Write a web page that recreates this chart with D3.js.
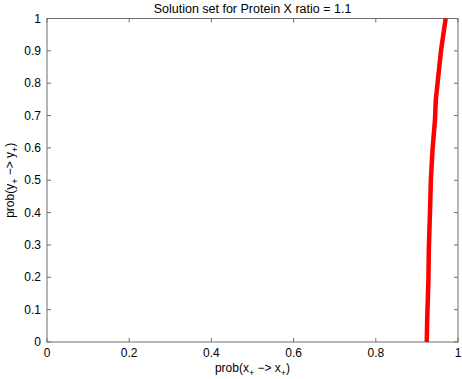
<!DOCTYPE html>
<html lang="en">
  <head>
    <meta charset="utf-8" />
    <title>Solution set for Protein X ratio</title>
    <script type="text/javascript" src="https://d3js.org/d3.v7.min.js"></script>
    <style>
      body { margin: 0; background: #fff; }
      text { font-family: "Liberation Sans", Arial, sans-serif; }
    </style>
  </head>
  <body>
    <script type="text/javascript">
      // curve
      var probX = [0.924, 0.925, 0.928, 0.929, 0.932, 0.934, 0.938, 0.944, 0.946, 0.959, 0.970];
      var probY = [0.0, 0.068, 0.192, 0.285, 0.409, 0.502, 0.594, 0.687, 0.749, 0.904, 1.0];
      var xTicks = [0, 0.2, 0.4, 0.6, 0.8, 1];
      var yTicks = [0, 0.1, 0.2, 0.3, 0.4, 0.5, 0.6, 0.7, 0.8, 0.9, 1];

      var width = 462, height = 379;
      var margin = { top: 18.5, right: 4, bottom: 37, left: 47 };

      var svg = d3.select("body").append("svg")
        .attr("width", width)
        .attr("height", height);

      var x = d3.scaleLinear().domain([0, 1]).range([margin.left, width - margin.right]);
      var y = d3.scaleLinear().domain([0, 1]).range([height - margin.bottom, margin.top]);

      var axisColor = "#6e6e6e";
      var tickLen = 4;

      // box
      svg.append("rect")
        .attr("x", x(0)).attr("y", y(1))
        .attr("width", x(1) - x(0)).attr("height", y(0) - y(1))
        .attr("fill", "none").attr("stroke", axisColor).attr("stroke-width", 1);

      // inward ticks on all four sides
      var g = svg.append("g").attr("stroke", axisColor).attr("stroke-width", 1);
      xTicks.forEach(function (t) {
        g.append("line").attr("x1", x(t)).attr("x2", x(t)).attr("y1", y(0)).attr("y2", y(0) - tickLen);
        g.append("line").attr("x1", x(t)).attr("x2", x(t)).attr("y1", y(1)).attr("y2", y(1) + tickLen);
      });
      yTicks.forEach(function (t) {
        g.append("line").attr("y1", y(t)).attr("y2", y(t)).attr("x1", x(0)).attr("x2", x(0) + tickLen);
        g.append("line").attr("y1", y(t)).attr("y2", y(t)).attr("x1", x(1)).attr("x2", x(1) - tickLen);
      });

      svg.selectAll(".xtl").data(xTicks).enter().append("text")
        .attr("x", function (d) { return x(d); })
        .attr("y", y(0) + 15)
        .attr("text-anchor", "middle")
        .attr("font-size", 12)
        .text(function (d) { return d; });

      svg.selectAll(".ytl").data(yTicks).enter().append("text")
        .attr("x", x(0) - 6)
        .attr("y", function (d) { return y(d) + 4; })
        .attr("text-anchor", "end")
        .attr("font-size", 12)
        .text(function (d) { return d; });

      // curve
      var line = d3.line()
        .x(function (d) { return x(d[0]); })
        .y(function (d) { return y(d[1]); });

      svg.append("path")
        .datum(d3.zip(probX, probY))
        .attr("d", line)
        .attr("fill", "none")
        .attr("stroke", "#ff0000")
        .attr("stroke-width", 4.5)
        .attr("stroke-linejoin", "round");

      // title
      svg.append("text")
        .attr("x", (x(0) + x(1)) / 2)
        .attr("y", 13)
        .attr("text-anchor", "middle")
        .attr("font-size", 12.5)
        .text("Solution set for Protein X ratio = 1.1");

      // x label
      var xl = svg.append("text")
        .attr("x", (x(0) + x(1)) / 2)
        .attr("y", 372)
        .attr("text-anchor", "middle")
        .attr("font-size", 12);
      xl.append("tspan").text("prob(x");
      xl.append("tspan").attr("dy", 4).attr("font-size", 9).text("+");
      xl.append("tspan").attr("dy", -4).text(" \u2212> x");
      xl.append("tspan").attr("dy", 4).attr("font-size", 9).text("+");
      xl.append("tspan").attr("dy", -4).text(")");

      // y label
      var yl = svg.append("text")
        .attr("transform", "translate(14," + (y(0) + y(1)) / 2 + ") rotate(-90)")
        .attr("text-anchor", "middle")
        .attr("font-size", 12);
      yl.append("tspan").text("prob(y");
      yl.append("tspan").attr("dy", 4).attr("font-size", 9).text("+");
      yl.append("tspan").attr("dy", -4).text(" \u2212> y");
      yl.append("tspan").attr("dy", 4).attr("font-size", 9).text("+");
      yl.append("tspan").attr("dy", -4).text(")");
    </script>
  </body>
</html>
